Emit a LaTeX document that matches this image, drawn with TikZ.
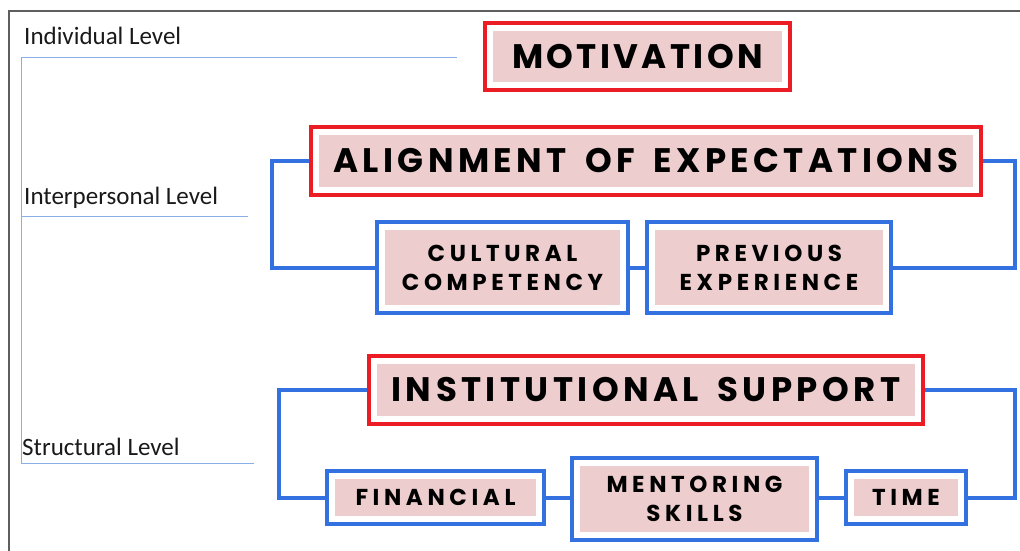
\documentclass[tikz,border=0pt]{standalone}
\usepackage{fontspec}
\setmainfont{Carlito}
\newfontfamily\boxfont[LetterSpace=13, WordSpace=1.6]{Poppins}
\newfontfamily\subfont[LetterSpace=20]{Poppins}
\usetikzlibrary{calc}
\definecolor{boxred}{HTML}{EC1C24}
\definecolor{boxblue}{HTML}{3370E0}
\definecolor{boxpink}{HTML}{EDCDCD}
\definecolor{thinblue}{HTML}{8AAEE6}
\definecolor{framegray}{HTML}{5E5E5E}
\tikzset{
    x=1pt, y=-1pt,
    pinkinside/.style={fill=white, inner sep=0pt, align=center,
        path picture={\fill[boxpink]
            ($(path picture bounding box.south west)+(8pt,8pt)$) rectangle
            ($(path picture bounding box.north east)+(-8pt,-8pt)$);}},
    factor/.style ={pinkinside, draw=boxred, line width=4pt,
        font=\boxfont\bfseries\fontsize{34}{36}\selectfont},
    sub/.style ={pinkinside, draw=boxblue, line width=4pt,
        font=\subfont\bfseries\fontsize{23}{29}\selectfont},
    link/.style = {draw=boxblue, line width=4pt},
    level/.style = {anchor=base west, inner sep=0pt, text=black!90,
        font=\fontsize{25}{28}\selectfont},
    levelline/.style = {draw=thinblue, line width=1pt}
}
\begin{document}
\begin{tikzpicture}

    \useasboundingbox (0,0) rectangle (1020,551);
    \draw[framegray, line width=2pt] (1020,11) -- (9,11) -- (9,551);

    % level labels with their guide lines
    \node[level] (indiv) at (24,45) {Individual Level};
    \node[level] (inter) at (24,204) {Interpersonal Level};
    \node[level] (struct) at (22,455) {Structural Level};

    \coordinate (indivend) at (457,58);
    \coordinate (interend) at (248,216);
    \coordinate (structend) at (254,463);
    \draw[levelline] (indivend) -- (21,58) -- (21,463) -- (structend);
    \draw[levelline] (21,216) -- (interend);

    % individual level
    \node[factor, minimum width=305, minimum height=67] (mot) at (637.5,56.5)
        {\addfontfeature{LetterSpace=10}MOTIVATION};

    % interpersonal level
    \node[factor, minimum width=670, minimum height=68] (align) at (646,161) {ALIGNMENT OF EXPECTATIONS};
    \node[sub, minimum width=251, minimum height=91] (cult) at (502.5,267.5) {CULTURAL\\COMPETENCY};
    \node[sub, minimum width=244, minimum height=91] (prev) at (769,267.5) {PREVIOUS\\EXPERIENCE};

    \path[link] (align.west) -| (272,267.5) -- (cult.west);
    \path[link] (align.east) -| (1015,267.5) -- (prev.east);
    \path[link] (cult.east) -- (prev.west);

    % structural level
    \node[factor, minimum width=554, minimum height=68] (inst) at (646,390) {INSTITUTIONAL SUPPORT};
    \node[sub, minimum width=217, minimum height=53] (fin) at (435.5,497.5) {FINANCIAL};
    \node[sub, minimum width=245, minimum height=82] (ment) at (694.5,499) {MENTORING\\SKILLS};
    \node[sub, minimum width=120, minimum height=53] (time) at (906,497.5) {TIME};

    \path[link] (inst.west) -| (279,497.5) -- (fin.west);
    \path[link] (inst.east) -| (1015,497.5) -- (time.east);
    \path[link] (fin.east) -- (fin.east -| ment.west);
    \path[link] (time.west) -- (time.west -| ment.east);

\end{tikzpicture}
\end{document}
